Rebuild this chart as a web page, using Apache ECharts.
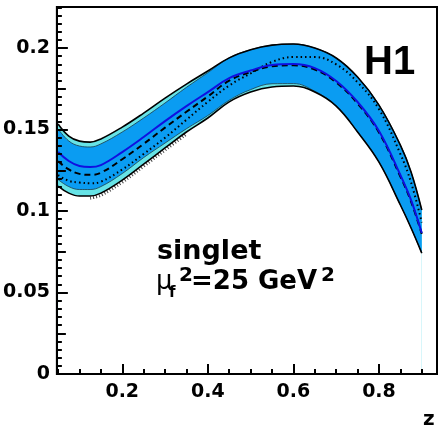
<!DOCTYPE html>
<html>
<head>
<meta charset="utf-8">
<script src="https://cdn.jsdelivr.net/npm/echarts@6/dist/echarts.min.js"></script>
<style>html,body{margin:0;padding:0;background:#fff}#c{width:439px;height:426px}</style>
</head>
<body>
<div id="c"></div>
<script>
// ---- data ----
const zVals    = [0.05, 0.075, 0.1, 0.125, 0.15, 0.2, 0.25, 0.3, 0.35, 0.4, 0.45, 0.5, 0.55, 0.6, 0.65, 0.7, 0.75, 0.8, 0.85, 0.875, 0.9];
const outerTop = [0.1534,0.1460,0.1429,0.1423,0.1442,0.1515,0.1601,0.1693,0.1779,0.1859,0.1940,0.1990,0.2018,0.2025,0.2000,0.1939,0.1822,0.1650,0.1405,0.1239,0.1006];
const innerTop = [0.1504,0.1430,0.1399,0.1393,0.1412,0.1485,0.1571,0.1663,0.1759,0.1849,0.1940,0.1990,0.2018,0.2025,0.2000,0.1939,0.1822,0.1650,0.1405,0.1239,0.1006];
const central  = [0.1362,0.1307,0.1276,0.1270,0.1282,0.1362,0.1454,0.1552,0.1644,0.1730,0.1815,0.1862,0.1896,0.1902,0.1877,0.1798,0.1669,0.1491,0.1221,0.1067,0.0865];
const dashed   = [0.1305,0.1255,0.1228,0.1222,0.1235,0.1318,0.1412,0.1512,0.1609,0.1703,0.1800,0.1853,0.1888,0.1894,0.1868,0.1789,0.1660,0.1482,0.1212,0.1058,0.0860];
const dotted   = [0.1220,0.1185,0.1175,0.1170,0.1180,0.1255,0.1350,0.1450,0.1560,0.1670,0.1770,0.1845,0.1915,0.1945,0.1945,0.1900,0.1790,0.1625,0.1350,0.1175,0.0930];
const innerBot = [0.1193,0.1150,0.1132,0.1132,0.1150,0.1230,0.1328,0.1417,0.1505,0.1586,0.1680,0.1745,0.1781,0.1782,0.1735,0.1644,0.1485,0.1300,0.1037,0.0896,0.0742];
const outerBot = [0.1153,0.1110,0.1092,0.1092,0.1110,0.1190,0.1288,0.1387,0.1485,0.1571,0.1670,0.1730,0.1761,0.1767,0.1730,0.1644,0.1485,0.1300,0.1037,0.0896,0.0742];
// hatched strip just under the lower edge (only drawn for part of the range)
const hatchEdge = [null,null,null,0.1079,0.1097,0.1177,0.1275,0.1374,0.1472,null,null,null,null,null,null,null,null,null,null,null,null];

const xTickLabels = [0.2, 0.4, 0.6, 0.8];
const yTickLabels = [0, 0.05, 0.1, 0.15, 0.2];

const X_MIN = 0.0472, X_MAX = 0.9356, Y_MIN = 0, Y_MAX = 0.2252;

// tick positions
const xMinorTicks = [];
for (let i = 1; i <= 18; i++) xMinorTicks.push(+(i * 0.05).toFixed(3));
const yMinorTicks = [];
for (let i = 0; i <= 45; i++) yMinorTicks.push(+(i * 0.005).toFixed(4));
const yMidTicks = [0.025, 0.075, 0.125, 0.175];

function pairs(arr) { return zVals.map((z, i) => [z, arr[i]]); }

const FONT = 'DejaVu Sans';
const tickStyle = { color: '#000', width: 2 };

function xAx(ticks, len, labels) {
  return {
    type: 'value', min: X_MIN, max: X_MAX, gridIndex: 0, position: 'bottom', z: 20,
    axisLine: { show: !!labels, lineStyle: { color: '#000', width: 2 } },
    axisTick: { show: true, inside: true, length: len, customValues: ticks, lineStyle: tickStyle },
    axisLabel: labels ? { customValues: labels, color: '#000', fontFamily: FONT, fontWeight: 'bold', fontSize: 19, margin: 9 } : { show: false },
    splitLine: { show: false }
  };
}
function yAx(ticks, len, labels) {
  return {
    type: 'value', min: Y_MIN, max: Y_MAX, gridIndex: 0, position: 'left', z: 20,
    axisLine: { show: !!labels, lineStyle: { color: '#000', width: 2 } },
    axisTick: { show: true, inside: true, length: len, customValues: ticks, lineStyle: tickStyle },
    axisLabel: labels ? { customValues: labels, color: '#000', fontFamily: FONT, fontWeight: 'bold', fontSize: 19, margin: 7 } : { show: false },
    splitLine: { show: false }
  };
}

const SM = 0.4;
function line(name, arr, style, z, area) {
  const s = { name, type: 'line', data: pairs(arr), smooth: SM, showSymbol: false, symbol: 'none', silent: true,
    lineStyle: style, z: z, xAxisIndex: 0, yAxisIndex: 0 };
  if (area) s.areaStyle = { color: area, opacity: 1, origin: 'start' };
  return s;
}

const chart = echarts.init(document.getElementById('c'), null, { renderer: 'canvas' });
chart.setOption({
  animation: false,
  backgroundColor: '#fff',
  grid: { left: 55, right: 2, top: 7, bottom: 52, show: true, borderColor: '#000', borderWidth: 2, containLabel: false, z: 20 },
  xAxis: [ xAx(xTickLabels, 10, xTickLabels), xAx(xMinorTicks, 5, null) ],
  yAxis: [ yAx(yTickLabels, 11, yTickLabels), yAx(yMidTicks, 9, null), yAx(yMinorTicks, 5, null) ],
  series: [
    // filled layers (each fills down to the axis; later ones paint over)
    line('outerTopFill', outerTop, { opacity: 0 }, 1, '#66e3e6'),
    line('innerTopFill', innerTop, { opacity: 0 }, 2, '#0a9cf2'),
    line('innerBotFill', innerBot, { opacity: 0 }, 3, '#66e3e6'),
    line('outerBotFill', outerBot, { opacity: 0 }, 4, '#ffffff'),
    line('hatch', hatchEdge, { color: '#444', width: 3, type: [1, 2] }, 5),
    line('innerTopEdge', innerTop, { color: '#1a3a4a', width: 0.8 }, 5),
    line('innerBotEdge', innerBot, { color: '#1a3a4a', width: 0.8 }, 5),
    line('outerTopEdge', outerTop, { color: '#000', width: 1.6 }, 6),
    line('outerBotEdge', outerBot, { color: '#000', width: 1.6 }, 6),
    line('dotted', dotted, { color: '#000', width: 2, type: [1.5, 3] }, 7),
    line('dashed', dashed, { color: '#000', width: 2, type: [6, 4] }, 7),
    line('central', central, { color: '#1010e0', width: 2 }, 8)
  ],
  graphic: [
    { type: 'text', x: 364, y: 63, z: 100, style: { text: 'H1', fill: '#000', font: 'bold 40px "Liberation Sans"', verticalAlign: 'middle' } },
    { type: 'text', x: 157, y: 252, z: 100, style: { text: 'singlet', fill: '#000', font: 'bold 27px "DejaVu Sans"', verticalAlign: 'middle' } },
    { type: 'text', x: 156, y: 282, z: 100, style: { text: 'μ', fill: '#000', font: '26px "DejaVu Sans"', verticalAlign: 'middle' } },
    { type: 'text', x: 169, y: 293, z: 100, style: { text: 'f', fill: '#000', font: 'bold 15px "DejaVu Sans"', verticalAlign: 'middle' } },
    { type: 'text', x: 179, y: 276, z: 100, style: { text: '2', fill: '#000', font: 'bold 20px "DejaVu Sans"', verticalAlign: 'middle' } },
    { type: 'text', x: 191, y: 282, z: 100, style: { text: '=25 GeV', fill: '#000', font: 'bold 26px "DejaVu Sans"', verticalAlign: 'middle' } },
    { type: 'text', x: 321, y: 276, z: 100, style: { text: '2', fill: '#000', font: 'bold 20px "DejaVu Sans"', verticalAlign: 'middle' } },
    { type: 'text', x: 423, y: 420, z: 100, style: { text: 'z', fill: '#000', font: 'bold 20px "DejaVu Sans"', verticalAlign: 'middle' } }
  ]
});
</script>
</body>
</html>
